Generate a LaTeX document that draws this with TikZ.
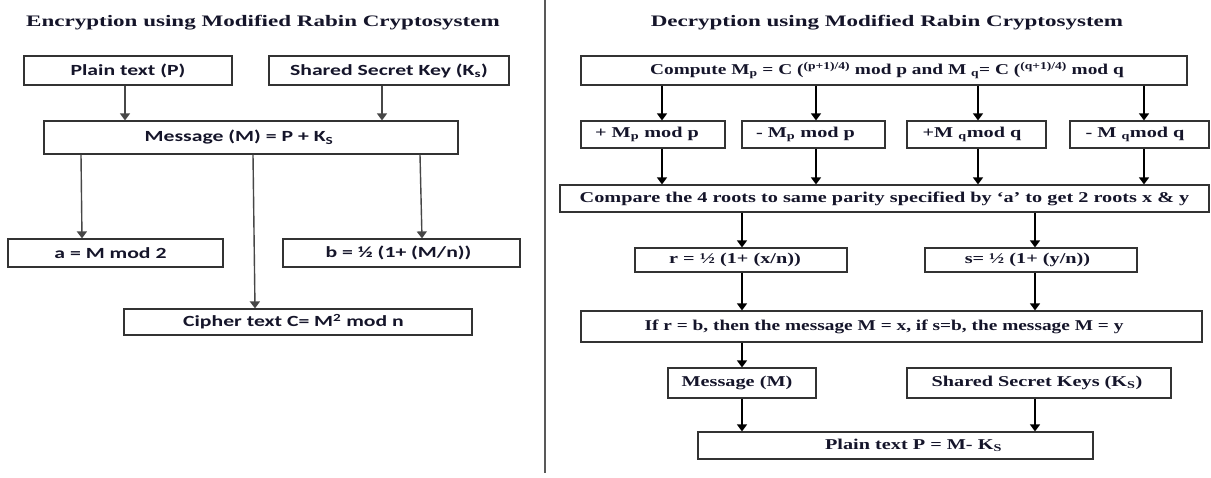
\documentclass[tikz,border=0pt]{standalone}
\usepackage{fontspec}
\usetikzlibrary{arrows.meta}
\newfontfamily\calfont[FakeStretch=1.4]{Carlito}
\newfontfamily\timfont[FakeStretch=1.35]{Liberation Serif}
\newfontfamily\timnarrow[FakeStretch=1.29]{Liberation Serif}
\newfontfamily\timwide[FakeStretch=1.44]{Liberation Serif}
\definecolor{txt}{HTML}{15152A}
\tikzset{
  box/.style={draw=black!80, line width=1.2pt, inner sep=0pt, text=txt},
  lbox/.style={box, font=\calfont\bfseries\fontsize{15.5}{18}\selectfont},
  rbox/.style={box, font=\timfont\bfseries\fontsize{15}{18}\selectfont},
  nbox/.style={box, font=\timnarrow\bfseries\fontsize{15}{18}\selectfont},
  ttl/.style={inner sep=0pt, text=txt, font=\timwide\bfseries\fontsize{16}{19}\selectfont},
  arr/.style={-{Triangle[width=10pt,length=7pt]}, line width=1.4pt, draw=black},
  larr/.style={arr, draw=black!72},
}
\begin{document}
\begin{tikzpicture}[x=1pt,y=-1pt]
\useasboundingbox[fill=white] (0,0) rectangle (1211,477);
% divider
\draw[line width=1.6pt, draw=black!65] (545,0) -- (545,473);
% titles
\node[ttl] (t1) at (263,23) {Encryption using Modified Rabin Cryptosystem};
\node[ttl] (t2) at (887,23) {Decryption using Modified Rabin Cryptosystem};
% ---------- left ----------
\node[lbox, minimum width=208pt, minimum height=29pt] (plain) at (128,70.5) {Plain text (P)};
\node[lbox, minimum width=240pt, minimum height=29pt] (shared) at (389,70.5) {Shared Secret Key (K\textsubscript{s})};
\node[lbox, minimum width=414pt, minimum height=33pt] (msg) at (251,137.5) {Message (M) = P + K\textsubscript{S}\hspace*{24pt}};
\node[lbox, minimum width=215pt, minimum height=28pt] (abox) at (115.5,253) {a = M mod 2\hspace*{10pt}};
\node[lbox, minimum width=237pt, minimum height=28pt] (bbox) at (401.5,253) {b = ½ (1+ (M/n))\hspace*{6pt}};
\node[lbox, minimum width=348pt, minimum height=26pt] (ciph) at (298,322) {Cipher text C= M\textsuperscript{2} mod n\hspace*{9pt}};
\draw[larr] (plain.south -| 125,0) -- (msg.north -| 125,0);
\draw[larr] (shared.south -| 382,0) -- (msg.north -| 382,0);
\draw[larr] (msg.south -| 81,0) -- (abox.north -| 82,0);
\draw[larr] (msg.south -| 253,0) -- (ciph.north -| 255,0);
\draw[larr] (msg.south -| 420,0) -- (bbox.north -| 422,0);
% ---------- right ----------
\node[nbox, minimum width=606pt, minimum height=29pt] (comp) at (884,70.5)
  {Compute M\textsubscript{p} = C (\textsuperscript{(p+1)/4)} mod p and M \textsubscript{q}= C (\textsuperscript{(q+1)/4)} mod q\hspace*{-6pt}};
\node[rbox, minimum width=144pt, minimum height=27pt] (r1) at (653,134.5) {+ M\textsubscript{p} mod p\hspace*{12pt}};
\node[rbox, minimum width=143pt, minimum height=27pt] (r2) at (813.5,134.5) {- M\textsubscript{p} mod p\hspace*{16pt}};
\node[rbox, minimum width=139pt, minimum height=27pt] (r3) at (976.5,134.5) {+M \textsubscript{q}mod q\hspace*{9pt}};
\node[rbox, minimum width=139pt, minimum height=27pt] (r4) at (1139.5,134.5) {- M \textsubscript{q}mod q\hspace*{9pt}};
\node[rbox, minimum width=649pt, minimum height=27pt] (cmp) at (884.5,198.5)
  {Compare the 4 roots to same parity specified by ‘a’ to get 2 roots x \& y};
\node[rbox, minimum width=212pt, minimum height=24pt] (rr) at (741,260) {r = ½ (1+ (x/n))\hspace*{12pt}};
\node[rbox, minimum width=212pt, minimum height=24pt] (ss) at (1031,260) {s= ½ (1+ (y/n))\hspace*{7pt}};
\node[nbox, minimum width=621pt, minimum height=31pt] (ifb) at (891.5,326.5)
  {If r = b, then the message M = x, if s=b, the message M = y\hspace*{15pt}};
\node[rbox, minimum width=148pt, minimum height=30pt] (mm) at (742,383) {Message (M)\hspace*{10pt}};
\node[rbox, minimum width=264pt, minimum height=30pt] (kk) at (1039,383) {Shared Secret Keys (K\textsubscript{S})\hspace*{4pt}};
\node[rbox, minimum width=395pt, minimum height=27pt] (pp) at (895.5,445.5) {\hspace*{36pt}Plain text P = M- K\textsubscript{S}};
\foreach \x/\b in {662/r1,816/r2,978/r3,1144/r4}{
  \draw[arr] (comp.south -| \x,0) -- (\b.north -| \x,0);
  \draw[arr] (\b.south -| \x,0) -- (cmp.north -| \x,0);
}
\draw[arr] (cmp.south -| 742,0) -- (rr.north -| 742,0);
\draw[arr] (cmp.south -| 1035,0) -- (ss.north -| 1035,0);
\draw[arr] (rr.south -| 742,0) -- (ifb.north -| 742,0);
\draw[arr] (ss.south -| 1035,0) -- (ifb.north -| 1035,0);
\draw[arr] (ifb.south -| 742,0) -- (mm.north -| 742,0);
\draw[arr] (mm.south -| 742,0) -- (pp.north -| 742,0);
\draw[arr] (kk.south -| 1035,0) -- (pp.north -| 1035,0);
\end{tikzpicture}
\end{document}
